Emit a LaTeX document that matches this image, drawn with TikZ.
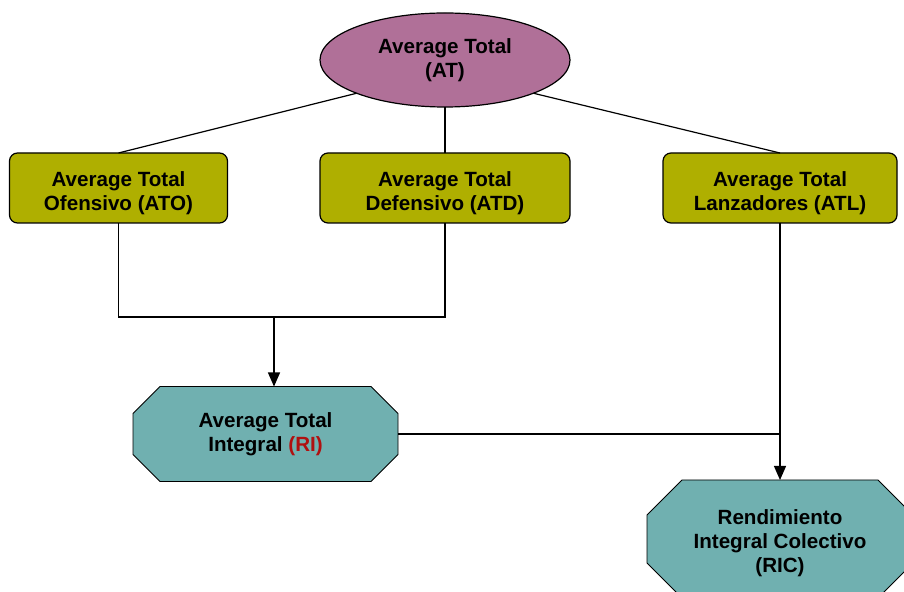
\documentclass[tikz,border=0pt]{standalone}
\usepackage{fontspec}
\setmainfont{Liberation Sans}
\usetikzlibrary{shapes.geometric,arrows.meta,backgrounds}
\definecolor{atpink}{RGB}{176,112,152}
\definecolor{atolive}{RGB}{175,175,0}
\definecolor{atteal}{RGB}{112,176,176}
\definecolor{atred}{RGB}{176,16,16}
% extra room above the first line
\newcommand{\topgap}[1]{\rule{0pt}{#1}}
% octagon behind a node: name, cut
\newcommand{\octback}[2]{%
  \filldraw[fill=atteal] ([xshift=#2]#1.north west) -- ([xshift=-#2]#1.north east)
    -- ([yshift=-#2]#1.north east) -- ([yshift=#2]#1.south east)
    -- ([xshift=-#2]#1.south east) -- ([xshift=#2]#1.south west)
    -- ([yshift=#2]#1.south west) -- ([yshift=-#2]#1.north west) -- cycle;}
\begin{document}
\begin{tikzpicture}[x=0.5pt,y=-0.5pt,line width=0.6pt,
  every node/.style={font=\fontsize{10.3}{12}\selectfont\bfseries,align=center,inner sep=0pt,outer sep=0pt},
  topnode/.style={ellipse,draw,fill=atpink,minimum width=125pt,minimum height=47pt},
  midnode/.style={rounded corners=4pt,draw,fill=atolive,minimum height=35pt},
  lownode/.style={rectangle},
  link/.style={-{Triangle[length=7pt,width=6pt]}}]
  \useasboundingbox (0,0) rectangle (904,592);
  \clip (0,0) rectangle (904,592);
  % top
  \node[topnode] (AT) at (445,60) {Average Total\\(AT)};
  % middle row
  \node[midnode,minimum width=109pt] (ATO) at (118.5,188) {\topgap{12.5pt}Average Total\\Ofensivo (ATO)};
  \node[midnode,minimum width=125pt] (ATD) at (445,188) {\topgap{12.5pt}Average Total\\Defensivo (ATD)};
  \node[midnode,minimum width=117pt] (ATL) at (780,188) {\topgap{12.5pt}Average Total\\Lanzadores (ATL)};
  % bottom row
  \node[lownode,minimum width=132.5pt,minimum height=47.5pt] (RI) at (265.5,434)
    {Average Total\\Integral \textcolor{atred}{(RI)}};
  \node[lownode,minimum width=133pt,minimum height=59pt] (RIC) at (780,539)
    {\topgap{11.5pt}Rendimiento\\Integral Colectivo\\(RIC)};
  \begin{scope}[on background layer]
    \octback{RI}{13.5pt}
    \octback{RIC}{17.5pt}
  \end{scope}
  \coordinate (jn) at (274,317);
  \draw (AT.south west) -- (ATO.north);
  \draw (AT.south) -- (ATD.north);
  \draw (AT.south east) -- (ATL.north);
  \draw (ATO.south) |- (jn) -| (ATD.south);
  \draw[link] (jn) -- (jn |- RI.north);
  \draw[link] (ATL.south) -- (RIC.north);
  \draw (RI.east) -- (RI.east -| ATL.south);
\end{tikzpicture}
\end{document}
